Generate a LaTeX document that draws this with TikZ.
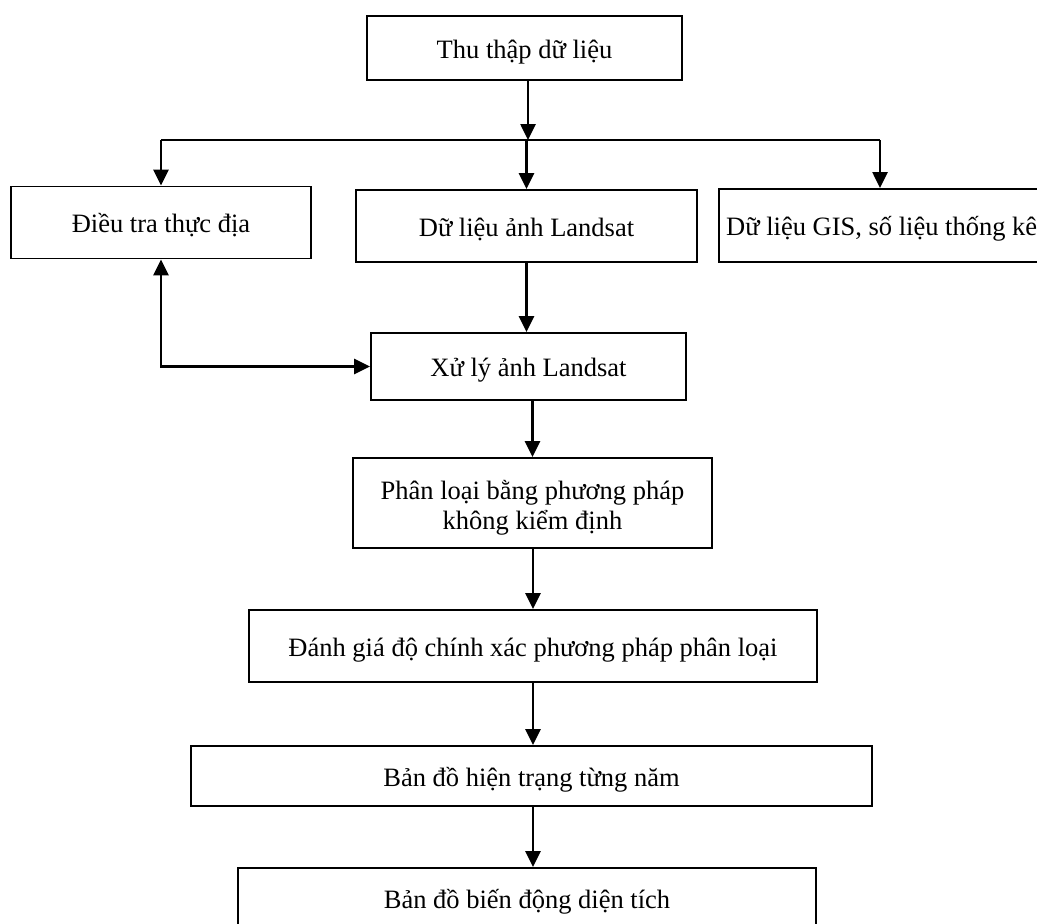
\documentclass[tikz,border=0pt]{standalone}
\usepackage{fontspec}
\setmainfont{Liberation Serif}
\usetikzlibrary{arrows.meta}
\begin{document}
\begin{tikzpicture}[x=1pt,y=-1pt,
  frame/.style={draw, line width=1.8pt, rectangle, inner sep=0pt},
  box/.style={frame, align=center, text height=24pt, text depth=4pt,
    font=\fontsize{26.5}{30}\selectfont},
  lbl/.style={inner sep=0pt, font=\fontsize{26.5}{30}\selectfont},
  arr/.style={line width=2.6pt, -{Triangle[length=16pt,width=15pt]}},
  arrboth/.style={line width=2.6pt, {Triangle[length=16pt,width=15pt]}-{Triangle[length=16pt,width=15pt]}},
  ln/.style={line width=2.6pt}]
\useasboundingbox (0,0) rectangle (1037,924);
\clip (0,0) rectangle (1037,924);
\fill[white] (0,0) rectangle (1037,924);

\node[box, minimum width=315, minimum height=64] (top) at (524.5,48) {Thu thập dữ liệu};
\node[box, minimum width=300, minimum height=72] (field) at (161,222.5) {Điều tra thực địa};
\node[box, minimum width=341, minimum height=72] (landsat) at (526.5,226) {Dữ liệu ảnh Landsat};
\node[frame, minimum width=400, minimum height=73, anchor=north west] (gis) at (718,188) {};
\node[lbl, anchor=west, text height=24pt, text depth=4pt] (gistext) at ([xshift=8pt]gis.west) {Dữ liệu GIS, số liệu thống kê};
\node[box, minimum width=315, minimum height=67] (xuly) at (528.5,366.5) {Xử lý ảnh Landsat};
\node[frame, minimum width=359, minimum height=90] (phanloai) at (532.5,503) {};
\node[lbl, align=center] (phanloaitext) at (532.5,508) {Phân loại bằng phương pháp\\không kiểm định};
\node[box, minimum width=568, minimum height=72] (danhgia) at (533,646) {Đánh giá độ chính xác phương pháp phân loại};
\node[box, minimum width=681, minimum height=60] (hientrang) at (531.5,776) {Bản đồ hiện trạng từng năm};
\node[box, minimum width=578, minimum height=60] (biendong) at (527,898) {Bản đồ biến động diện tích};

\coordinate (jC) at (528,140);
\coordinate (jL) at (161,140);
\coordinate (jR) at (880,140);

\draw[arr] (top.south -| jC) -- (jC);
\draw[ln] (jL) -- (jR);
\draw[arr] (jL) -- (field.north);
\draw[arr] (jC -| landsat.north) -- (landsat.north);
\draw[arr] (jR) -- (jR |- gis.north);
\draw[arr] (landsat.south) -- (landsat.south |- xuly.north);
\draw[arrboth] (field.south) |- (xuly.west);
\draw[arr] (xuly.south -| phanloai.north) -- (phanloai.north);
\draw[arr] (phanloai.south -| danhgia.north) -- (danhgia.north);
\draw[arr] (danhgia.south) -- (danhgia.south |- hientrang.north);
\draw[arr] (hientrang.south -| danhgia.south) -- (danhgia.south |- biendong.north);
\end{tikzpicture}
\end{document}
